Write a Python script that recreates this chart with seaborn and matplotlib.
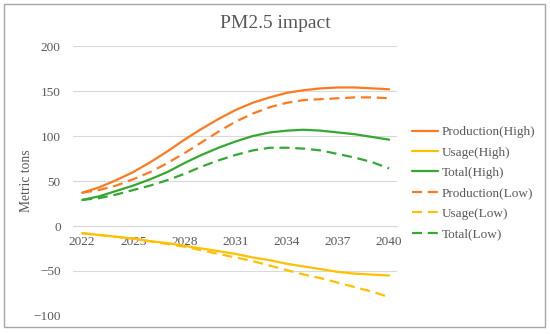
import numpy as np
import pandas as pd
import matplotlib
matplotlib.use("Agg")
import matplotlib.pyplot as plt
import seaborn as sns
from matplotlib.patches import Rectangle

years = list(range(2022, 2041))
production_high = [37, 43, 51, 60, 71, 83, 96, 108, 119, 129, 137, 143, 148, 151, 153, 154, 154, 153, 152]
usage_high = [-8, -10, -12, -14, -17, -19, -22, -25, -28, -31, -35, -38, -42, -45, -48, -51, -53, -54, -55]
total_high = [29, 33, 39, 45, 52, 60, 70, 79, 87, 94, 100, 104, 106, 107, 106, 104, 102, 99, 96]
production_low = [37, 40, 45, 52, 60, 70, 81, 93, 105, 116, 125, 132, 137, 140, 141, 142, 143, 143, 142]
usage_low = [-8, -10, -12, -14, -17, -20, -23, -27, -31, -35, -39, -44, -49, -54, -58, -63, -68, -73, -79]
total_low = [29, 31, 35, 40, 45, 51, 58, 66, 73, 79, 84, 87, 87, 86, 84, 80, 76, 71, 64]

series_names = ["Production(High)", "Usage(High)", "Total(High)",
                "Production(Low)", "Usage(Low)", "Total(Low)"]
series_values = [production_high, usage_high, total_high,
                 production_low, usage_low, total_low]
tick_years = [2022, 2025, 2028, 2031, 2034, 2037, 2040]
y_ticks = [-100, -50, 0, 50, 100, 150, 200]

orange = "#FF7A1F"
gold = "#FFC000"
green = "#35A832"
palette = {series_names[0]: orange, series_names[1]: gold, series_names[2]: green,
           series_names[3]: orange, series_names[4]: gold, series_names[5]: green}
dash_map = {n: "" if "High" in n else (4.5, 2.6) for n in series_names}

rows = []
for name, vals in zip(series_names, series_values):
    for yr, v in zip(years, vals):
        rows.append({"year": yr, "value": v, "series": name})
df = pd.DataFrame(rows)

sns.set_style("white")
plt.rcParams["font.family"] = ["Liberation Serif", "DejaVu Serif"]
text_gray = "#595959"

fig = plt.figure(figsize=(5.5, 3.34), dpi=100)
ax = fig.add_axes([0.133, 0.054, 0.589, 0.808])

sns.lineplot(data=df, x="year", y="value", hue="series", style="series",
             palette=palette, dashes=dash_map, hue_order=series_names,
             style_order=series_names, linewidth=1.6, ax=ax, legend=True)

ax.set_xlim(2021.47, 2040.47)
ax.set_ylim(-100, 200)
ax.set_yticks(y_ticks)
ax.set_yticklabels([str(t).replace("-", "\u2212") for t in y_ticks])
ax.set_xticks(tick_years)
ax.set_xticklabels([str(t) for t in tick_years])
ax.yaxis.grid(True, color="#d9d9d9", linewidth=0.8)
ax.xaxis.grid(False)
for s in ["top", "right", "left"]:
    ax.spines[s].set_visible(False)
ax.spines["bottom"].set_position(("data", 0))
ax.spines["bottom"].set_color("#d9d9d9")
ax.spines["bottom"].set_linewidth(0.8)
ax.tick_params(axis="both", length=0, labelsize=9.5, colors=text_gray)
ax.tick_params(axis="x", pad=7)
ax.tick_params(axis="y", pad=9)
ax.set_xlabel("")
ax.set_ylabel("Metric tons", fontsize=9.8, color=text_gray)
ax.yaxis.set_label_coords(-0.124, 0.5)

# chart title centred on the whole chart area
fig.text(0.5, 1 - 24 / 334, "PM2.5 impact", fontsize=14, color=text_gray,
         ha="center", va="center")

handles, labels = ax.get_legend_handles_labels()
leg = ax.legend(handles, labels, loc="center left", bbox_to_anchor=(1.03, 0.492),
                frameon=False, fontsize=9.5, handlelength=2.0, handletextpad=0.25,
                labelspacing=0.62, borderaxespad=0)
for t in leg.get_texts():
    t.set_color(text_gray)

fig.patches.append(Rectangle((4 / 550, 7 / 334), 541 / 550, 323 / 334,
                             transform=fig.transFigure, fill=False,
                             edgecolor="#a6a6a6", linewidth=1.0))

fig.savefig("out.png", dpi=100)
